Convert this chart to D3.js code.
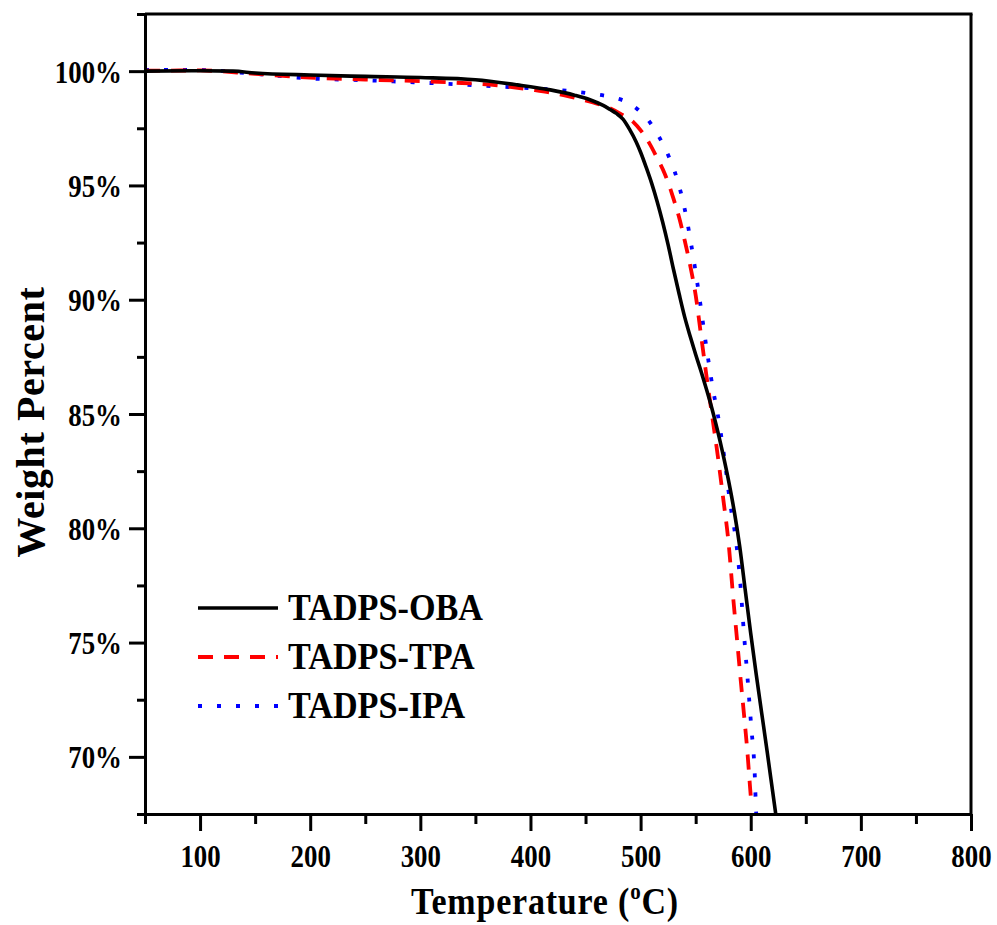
<!DOCTYPE html>
<html>
<head>
<meta charset="utf-8">
<script src="https://cdn.jsdelivr.net/npm/d3@7"></script>
<style>
  html, body { margin: 0; padding: 0; background: #fff; }
  svg text { font-family: "Liberation Serif", "Times New Roman", serif; font-weight: bold; fill: #000; }
</style>
</head>
<body>
<svg id="chart" width="997" height="925"></svg>
<script>
// TGA curves: temperature (°C) vs. remaining weight (%)
const oba_T = [50, 100, 130, 150, 200, 250, 300, 350, 388, 418, 440, 454, 466, 472, 478, 484, 490, 496, 500, 505, 510, 515, 520, 525, 530, 535, 540, 545, 550, 555, 560, 565, 570, 575, 580, 585, 590, 595, 600, 605, 610, 615, 620, 623];
const oba_W = [100, 100.02, 100, 99.92, 99.83, 99.77, 99.72, 99.62, 99.4, 99.18, 98.95, 98.75, 98.5, 98.33, 98.15, 97.9, 97.45, 96.9, 96.45, 95.8, 95.1, 94.3, 93.4, 92.4, 91.3, 90.25, 89.25, 88.4, 87.6, 86.85, 86.05, 85.2, 84.25, 83.2, 82.05, 80.75, 79.2, 77.3, 75.4, 73.6, 71.9, 70.2, 68.45, 67.4];

const tpa_T = [50, 100, 150, 200, 250, 300, 330, 370, 402, 430, 448, 462, 472, 483, 493, 501, 508, 515, 522, 527, 530, 535, 540, 545, 550, 555, 560, 565, 570, 575, 580, 584, 588, 591, 594, 597, 599.5, 600];
const tpa_W = [100.02, 100.03, 99.88, 99.72, 99.63, 99.56, 99.5, 99.38, 99.18, 98.95, 98.74, 98.55, 98.38, 98.1, 97.79, 97.35, 96.84, 96.2, 95.5, 94.85, 94.4, 93.6, 92.6, 91.5, 90.2, 88.4, 86.6, 84.9, 83.2, 81.3, 79.3, 77.0, 74.9, 73.3, 71.8, 70.2, 68.6, 68.3];

const ipa_T = [50, 100, 150, 200, 250, 300, 336, 380, 424, 457, 475, 487, 498, 508, 517, 525, 533, 537, 542, 546, 550, 554, 558, 562, 566, 570, 576, 581, 587, 590, 594, 597.5, 600.5, 603.5, 605, 606];
const ipa_W = [100.05, 100.05, 99.88, 99.68, 99.6, 99.5, 99.42, 99.3, 99.18, 99.0, 98.85, 98.66, 98.3, 97.79, 97.1, 96.33, 95.3, 94.6, 93.5, 92.4, 91.2, 89.9, 88.5, 87.2, 86.0, 85.0, 83.1, 81.2, 79.3, 77.9, 75.3, 73.2, 71.3, 69.4, 67.5, 67.0];

const seriesNames = ["TADPS-OBA", "TADPS-TPA", "TADPS-IPA"];

const xMajorTicks = [100, 200, 300, 400, 500, 600, 700, 800];
const xMinorTicks = [50, 150, 250, 350, 450, 550, 650, 750];
const yMajorTicks = [70, 75, 80, 85, 90, 95, 100];
const yMinorTicks = [67.5, 72.5, 77.5, 82.5, 87.5, 92.5, 97.5, 102.5];

const xTitle = "Temperature (";
const yTitle = "Weight Percent";

// ---- layout ----
const plot = { left: 145, right: 971, top: 14, bottom: 814 };
const svg = d3.select("#chart");

const x = d3.scaleLinear().domain([50, 800]).range([plot.left, plot.right]);
const y = d3.scaleLinear().domain([67.5, 102.5]).range([plot.bottom, plot.top]);

const series = [
  { name: seriesNames[0], T: oba_T, W: oba_W, color: "#000000", dash: null, width: 3.6 },
  { name: seriesNames[1], T: tpa_T, W: tpa_W, color: "#ff0000", dash: "15,11", width: 3.8 },
  { name: seriesNames[2], T: ipa_T, W: ipa_W, color: "#0000ff", dash: "4,15", width: 3.8 }
];

// clip for curves
svg.append("defs").append("clipPath").attr("id", "plotClip")
  .append("rect")
  .attr("x", plot.left).attr("y", plot.top)
  .attr("width", plot.right - plot.left).attr("height", plot.bottom - plot.top);

const line = d3.line()
  .x(d => x(d[0]))
  .y(d => y(d[1]))
  .curve(d3.curveMonotoneX);

const curves = svg.append("g").attr("clip-path", "url(#plotClip)");
// IPA and TPA first so the solid OBA curve sits on top
[series[2], series[1], series[0]].forEach(s => {
  const pts = s.T.map((t, i) => [t, s.W[i]]);
  curves.append("path")
    .datum(pts)
    .attr("d", line)
    .attr("fill", "none")
    .attr("stroke", s.color)
    .attr("stroke-width", s.width)
    .attr("stroke-linecap", "butt")
    .attr("stroke-linejoin", "round")
    .attr("stroke-dasharray", s.dash);
});

// ---- axes ----
const axisW = 3;
function styleAxis(g) {
  g.selectAll("path.domain").attr("stroke", "#000").attr("stroke-width", axisW);
  g.selectAll(".tick line").attr("stroke", "#000").attr("stroke-width", axisW);
}

// bottom axis
const gxMinor = svg.append("g").attr("transform", `translate(0,${plot.bottom})`)
  .call(d3.axisBottom(x).tickValues(xMinorTicks).tickSize(10).tickSizeOuter(0).tickFormat(""));
gxMinor.select("path.domain").remove();
styleAxis(gxMinor);

const gx = svg.append("g").attr("transform", `translate(0,${plot.bottom})`)
  .call(d3.axisBottom(x).tickValues(xMajorTicks).tickSize(17).tickSizeOuter(0).tickFormat(d3.format("d")));
styleAxis(gx);
gx.selectAll(".tick text")
  .attr("y", null).attr("dy", null)
  .attr("font-size", 32)
  .attr("text-anchor", "middle")
  .attr("transform", "translate(0,53) scale(0.84,1)");

// left axis
const gyMinor = svg.append("g").attr("transform", `translate(${plot.left},0)`)
  .call(d3.axisLeft(y).tickValues(yMinorTicks).tickSize(8).tickSizeOuter(0).tickFormat(""));
gyMinor.select("path.domain").remove();
styleAxis(gyMinor);

const gy = svg.append("g").attr("transform", `translate(${plot.left},0)`)
  .call(d3.axisLeft(y).tickValues(yMajorTicks).tickSize(16).tickSizeOuter(0).tickFormat(d => d + "%"));
styleAxis(gy);
gy.selectAll(".tick text")
  .attr("x", null).attr("dy", null)
  .attr("font-size", 32)
  .attr("text-anchor", "end")
  .attr("transform", "translate(-23,11) scale(0.84,1)");

// frame: top and right edges
svg.append("line")
  .attr("x1", plot.left).attr("x2", plot.right + 1.5)
  .attr("y1", plot.top).attr("y2", plot.top)
  .attr("stroke", "#000").attr("stroke-width", axisW);
svg.append("line")
  .attr("x1", plot.right).attr("x2", plot.right)
  .attr("y1", plot.top).attr("y2", plot.bottom)
  .attr("stroke", "#000").attr("stroke-width", axisW);

// ---- axis titles ----
const xt = svg.append("text")
  .attr("text-anchor", "middle")
  .attr("font-size", 34)
  .attr("letter-spacing", 0.8)
  .attr("transform", `translate(${(413 + 677) / 2},914) scale(1,1.1)`);
xt.append("tspan").text(xTitle);
xt.append("tspan").attr("font-size", 21).attr("dy", -14).text("o");
xt.append("tspan").attr("dy", 14).text("C)");

svg.append("text")
  .attr("text-anchor", "middle")
  .attr("font-size", 40)
  .attr("letter-spacing", 0.6)
  .attr("transform", `translate(44,${(287 + 557) / 2}) rotate(-90)`)
  .text(yTitle);

// ---- legend ----
const legendY = [608, 657, 706];
const legend = svg.append("g");
series.forEach((s, i) => {
  legend.append("line")
    .attr("x1", 198).attr("x2", 278)
    .attr("y1", legendY[i]).attr("y2", legendY[i])
    .attr("stroke", s.color)
    .attr("stroke-width", s.width)
    .attr("stroke-dasharray", s.dash);
  legend.append("text")
    .attr("font-size", 38)
    .attr("transform", `translate(288,${legendY[i] + 12}) scale(0.9,1)`)
    .text(s.name);
});
</script>
</body>
</html>
